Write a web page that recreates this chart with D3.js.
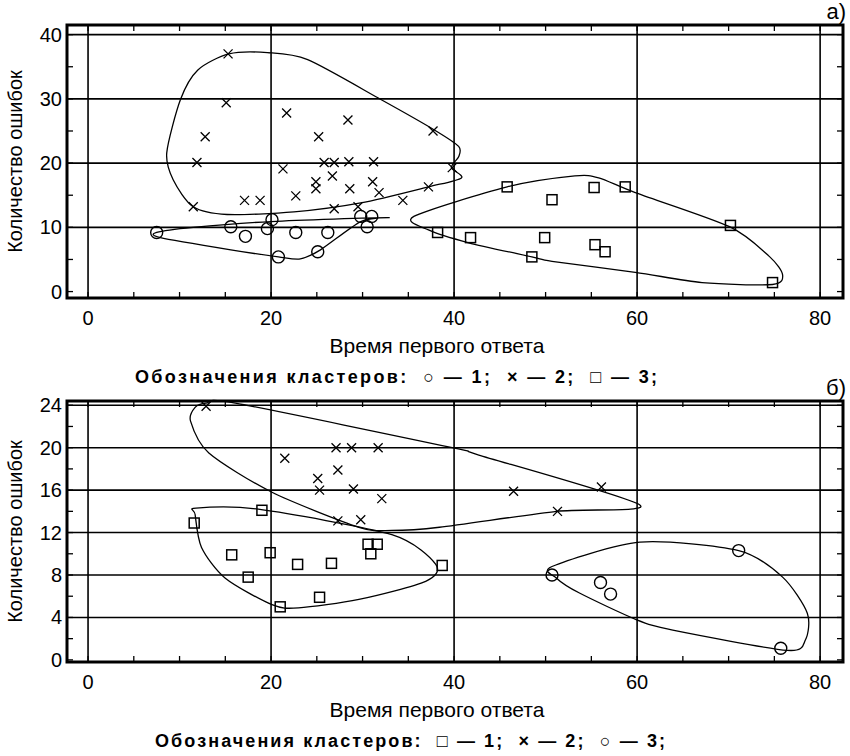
<!DOCTYPE html>
<html><head><meta charset="utf-8">
<script src="https://cdn.jsdelivr.net/npm/d3@7"></script>
<style>body{margin:0;background:#fff}text{font-family:"Liberation Sans",Arial,sans-serif}</style>
</head><body><svg id="c" width="850" height="756"></svg>
<script>
// ---- Panel a) data ----
const aCircles = [[7.5,9.2],[15.6,10.1],[17.2,8.6],[19.6,9.8],[20.1,11.2],[20.8,5.4],[22.7,9.2],[26.2,9.2],[25.1,6.2],[29.8,11.7],[31.0,11.7],[30.5,10.1]];
const aCrosses = [[15.3,37.0],[15.1,29.4],[12.8,24.1],[11.9,20.1],[11.5,13.2],[17.1,14.2],[18.8,14.2],[21.7,27.8],[21.3,19.1],[22.7,14.9],[25.2,24.1],[24.9,17.1],[24.9,16.0],[25.8,20.1],[26.9,20.1],[26.7,18.0],[28.4,26.7],[28.5,20.2],[28.6,16.0],[26.9,12.9],[29.5,13.2],[31.2,20.2],[31.1,17.1],[31.8,15.4],[34.4,14.2],[37.2,16.3],[37.7,25.0],[39.8,19.3]];
const aSquares = [[45.8,16.3],[50.7,14.3],[55.3,16.2],[58.7,16.3],[70.2,10.3],[38.2,9.2],[41.8,8.4],[49.9,8.4],[48.5,5.4],[55.4,7.3],[56.5,6.2],[74.8,1.4]];
const aHullCross = [[15.4,37.0],[19.6,37.2],[24.0,36.1],[32.0,29.9],[37.8,25.2],[40.5,22.6],[40.5,21.0],[39.7,19.3],[40.8,17.7],[37.2,16.3],[29.8,13.8],[22.5,12.4],[15.2,12.0],[11.5,13.2],[9.3,17.4],[8.6,21.6],[10.1,29.9],[12.0,34.5]];
const aHullCircle = [[7.5,9.2],[11.5,10.0],[20.0,10.9],[32.6,11.5],[29.8,10.9],[25.4,6.5],[23.2,5.1],[20.8,5.4],[15.6,6.5],[7.9,8.4]];
const aHullSquare = [[35.6,11.7],[45.8,16.3],[53.2,18.0],[55.8,17.7],[59.8,15.4],[70.1,10.1],[74.5,5.4],[75.9,2.6],[74.8,1.1],[67.1,1.4],[59.8,3.0],[50.7,4.7],[48.5,5.4],[41.6,7.6],[37.2,9.6]];
const aYTicks = [0,10,20,30,40];
// ---- Panel б) data ----
const bSquares = [[11.6,12.9],[19.0,14.1],[15.7,9.9],[17.5,7.8],[19.9,10.1],[21.0,5.0],[22.9,9.0],[25.3,5.9],[26.6,9.1],[30.6,10.9],[31.6,10.9],[30.9,10.0],[38.7,8.9]];
const bCrosses = [[12.9,23.9],[21.5,19.0],[27.1,20.0],[28.8,20.0],[31.7,20.0],[27.3,17.9],[25.1,17.1],[25.3,16.0],[29.0,16.1],[32.1,15.2],[27.3,13.1],[29.8,13.2],[46.5,15.9],[56.1,16.3],[51.3,14.0]];
const bCircles = [[50.7,8.0],[56.0,7.3],[57.1,6.2],[71.1,10.3],[75.7,1.1]];
const bHullCross = [[12.9,24.2],[16.1,24.2],[39.8,20.0],[42.7,19.3],[60.3,14.6],[51.2,14.0],[38.4,12.5],[33.2,12.2],[29.6,12.5],[20.1,15.8],[13.2,19.5],[11.2,22.5],[11.7,23.8]];
const bHullSquare = [[11.8,14.3],[18.6,14.2],[33.2,11.8],[38.0,9.0],[36.9,7.4],[29.6,5.7],[23.0,4.9],[20.1,5.2],[15.0,7.7],[12.4,10.6],[11.7,13.7]];
const bHullCircle = [[50.7,8.8],[60.3,11.1],[71.1,10.3],[75.9,7.8],[78.6,4.4],[78.4,1.9],[76.4,0.9],[63.9,2.8],[59.9,3.8],[53.7,6.3],[51.2,7.7]];
const bYTicks = [0,4,8,12,16,20,24];
const xTicks = [0,20,40,60,80];

const svg = d3.select("#c");

function panel(o){
  const g = svg.append("g");
  const x = d3.scaleLinear().domain([-2.3,82.5]).range([67,843]);
  const y = d3.scaleLinear().domain(o.yd).range([o.bottom,o.top]);
  xTicks.forEach(v=>g.append("line").attr("x1",x(v)).attr("x2",x(v)).attr("y1",o.top).attr("y2",o.bottom).attr("stroke","#000").attr("stroke-width",1.6));
  o.yt.slice(1).forEach(v=>g.append("line").attr("x1",67).attr("x2",843).attr("y1",y(v)).attr("y2",y(v)).attr("stroke","#000").attr("stroke-width",1.6));
  d3.range(0,85,5).forEach(v=>{
    g.append("line").attr("x1",x(v)).attr("x2",x(v)).attr("y1",o.top).attr("y2",o.top+6).attr("stroke","#000").attr("stroke-width",1.3);
    g.append("line").attr("x1",x(v)).attr("x2",x(v)).attr("y1",o.bottom).attr("y2",o.bottom-6).attr("stroke","#000").attr("stroke-width",1.3);
  });
  d3.range(0,o.yd[1],o.ym).forEach(v=>{
    g.append("line").attr("x1",67).attr("x2",73).attr("y1",y(v)).attr("y2",y(v)).attr("stroke","#000").attr("stroke-width",1.3);
    g.append("line").attr("x1",843).attr("x2",837).attr("y1",y(v)).attr("y2",y(v)).attr("stroke","#000").attr("stroke-width",1.3);
  });
  g.append("rect").attr("x",67).attr("y",o.top).attr("width",776).attr("height",o.bottom-o.top).attr("fill","none").attr("stroke","#000").attr("stroke-width",3);
  o.yt.forEach(v=>g.append("text").attr("x",62).attr("y",y(v)+7).attr("text-anchor","end").attr("font-size",20).text(v));
  xTicks.forEach(v=>g.append("text").attr("x",x(v)).attr("y",o.bottom+27).attr("text-anchor","middle").attr("font-size",20).text(v));
  g.append("text").attr("x",437).attr("y",o.bottom+55).attr("text-anchor","middle").attr("font-size",21).text("Время первого ответа");
  g.append("text").attr("transform",`translate(22,${(o.top+o.bottom)/2}) rotate(-90)`).attr("text-anchor","middle").attr("font-size",20).text("Количество ошибок");
  g.append("text").attr("x",846).attr("y",o.top-6).attr("text-anchor","end").attr("font-size",22).attr("font-family","Liberation Serif").text(o.tag);
  const line = d3.line().x(d=>x(d[0])).y(d=>y(d[1])).curve(d3.curveCardinalClosed.tension(0.2));
  o.hulls.forEach(h=>g.append("path").attr("d",line(h)).attr("fill","none").attr("stroke","#000").attr("stroke-width",1.3));
  o.circles.forEach(d=>g.append("circle").attr("cx",x(d[0])).attr("cy",y(d[1])).attr("r",o.cr).attr("fill","none").attr("stroke","#000").attr("stroke-width",1.4));
  o.squares.forEach(d=>g.append("rect").attr("x",x(d[0])-o.sq).attr("y",y(d[1])-o.sq).attr("width",2*o.sq).attr("height",2*o.sq).attr("fill","none").attr("stroke","#000").attr("stroke-width",1.5));
  o.crosses.forEach(d=>{const cx=x(d[0]),cy=y(d[1]),s=o.xs;
    g.append("path").attr("d",`M${cx-s},${cy-s}L${cx+s},${cy+s}M${cx-s},${cy+s}L${cx+s},${cy-s}`).attr("stroke","#000").attr("stroke-width",1.3);});
  g.append("text").attr("x",o.lx).attr("y",o.bottom+85).attr("font-size",18).attr("font-weight","bold")
    .attr("textLength",o.lw).attr("lengthAdjust","spacing").attr("xml:space","preserve").text(o.legend);
}
panel({top:25,bottom:298,yd:[-1,41.5],yt:aYTicks,ym:5,tag:"а)",cr:6,sq:5,xs:4.5,lx:135,lw:522,
  circles:aCircles,crosses:aCrosses,squares:aSquares,hulls:[aHullCross,aHullCircle,aHullSquare],
  legend:"Обозначения кластеров:  ○ — 1;  × — 2;  □ — 3;"});
panel({top:401,bottom:662,yd:[-0.2,24.4],yt:bYTicks,ym:2,tag:"б)",cr:6,sq:5,xs:4.5,lx:155,lw:510,
  circles:bCircles,crosses:bCrosses,squares:bSquares,hulls:[bHullCross,bHullSquare,bHullCircle],
  legend:"Обозначения кластеров:  □ — 1;  × — 2;  ○ — 3;"});
</script></body></html>
